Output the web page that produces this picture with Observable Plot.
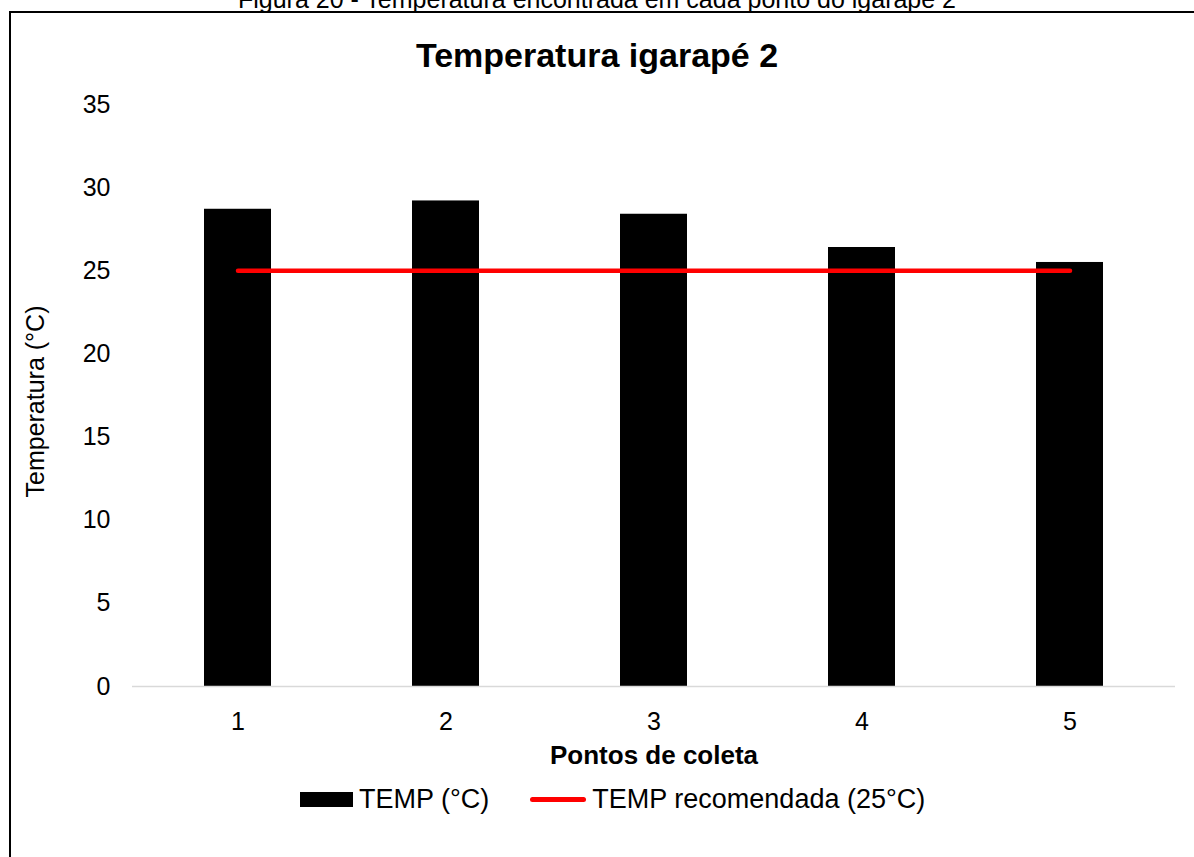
<!DOCTYPE html>
<html>
<head>
<meta charset="utf-8">
<script src="https://cdn.jsdelivr.net/npm/d3@7"></script>
<script src="https://cdn.jsdelivr.net/npm/@observablehq/plot@0.6"></script>
<style>
  html, body { margin: 0; padding: 0; background: #fff; overflow: hidden; }
  #wrap { position: relative; width: 1194px; height: 857px; font-family: "Liberation Sans", Arial, sans-serif; color: #000; }
  #caption { position: absolute; left: 0; width: 1194px; top: -13px; text-align: center; font-size: 25px; line-height: 25px; white-space: nowrap; }
  #frame { position: absolute; left: 9px; top: 11px; width: 1300px; height: 1000px; border-left: 2px solid #000; border-top: 2px solid #000; }
  #title { position: absolute; left: 0; width: 1194px; top: 37px; text-align: center; font-size: 34px; font-weight: bold; line-height: 36px; }
  #chart { position: absolute; left: 0; top: 0; }
  #legend { position: absolute; left: 300px; top: 785px; display: flex; align-items: center; font-size: 27px; line-height: 28px; white-space: nowrap; }
  .sw-bar { width: 53px; height: 15px; background: #000; margin-right: 6px; }
  .sw-line { width: 56px; height: 5px; background: #ff0000; border-radius: 3px; margin-left: 41px; margin-right: 6px; }
</style>
</head>
<body>
<div id="wrap">
  <div id="caption">Figura 20 - Temperatura encontrada em cada ponto do igarapé 2</div>
  <div id="frame"></div>
  <div id="chart"></div>
  <div id="title">Temperatura igarapé 2</div>
  <div id="legend">
    <div class="sw-bar"></div><span>TEMP (°C)</span>
    <div class="sw-line"></div><span>TEMP recomendada (25°C)</span>
  </div>
</div>
<script>
const pontos = ["1", "2", "3", "4", "5"];
const temp = [28.7, 29.2, 28.4, 26.4, 25.5];
const tempRecomendada = [25, 25, 25, 25, 25];
const yTicks = [0, 5, 10, 15, 20, 25, 30, 35];

const data = pontos.map((p, i) => ({ponto: p, temp: temp[i], rec: tempRecomendada[i]}));

const chart = Plot.plot({
  width: 1194,
  height: 857,
  marginLeft: 132,
  marginRight: 19,
  marginTop: 104,
  marginBottom: 171,
  style: {fontFamily: "'Liberation Sans', Arial, sans-serif", background: "transparent", overflow: "visible"},
  x: {type: "band", domain: pontos, paddingInner: 0.679, paddingOuter: 0.34},
  y: {domain: [0, 35]},
  marks: [
    Plot.axisY({ticks: yTicks, tickSize: 0, tickPadding: 22, fontSize: 25, label: null, color: "#000"}),
    Plot.axisX({tickSize: 0, tickPadding: 26, fontSize: 25, label: null, color: "#000"}),
    Plot.barY(data, {x: "ponto", y: "temp", fill: "#000"}),
    Plot.ruleY([0], {stroke: "#d9d9d9", strokeWidth: 1.5}),
    Plot.line(data, {x: "ponto", y: "rec", stroke: "#ff0000", strokeWidth: 4.5, strokeLinecap: "round"}),
    Plot.text(["Temperatura (°C)"], {frameAnchor: "left", textAnchor: "middle", dx: -97, dy: 6, rotate: -90, fontSize: 25, fill: "#000"}),
    Plot.text(["Pontos de coleta"], {frameAnchor: "bottom", dy: 77, fontSize: 26, fontWeight: "bold", fill: "#000"})
  ]
});
document.getElementById("chart").appendChild(chart);
</script>
</body>
</html>
